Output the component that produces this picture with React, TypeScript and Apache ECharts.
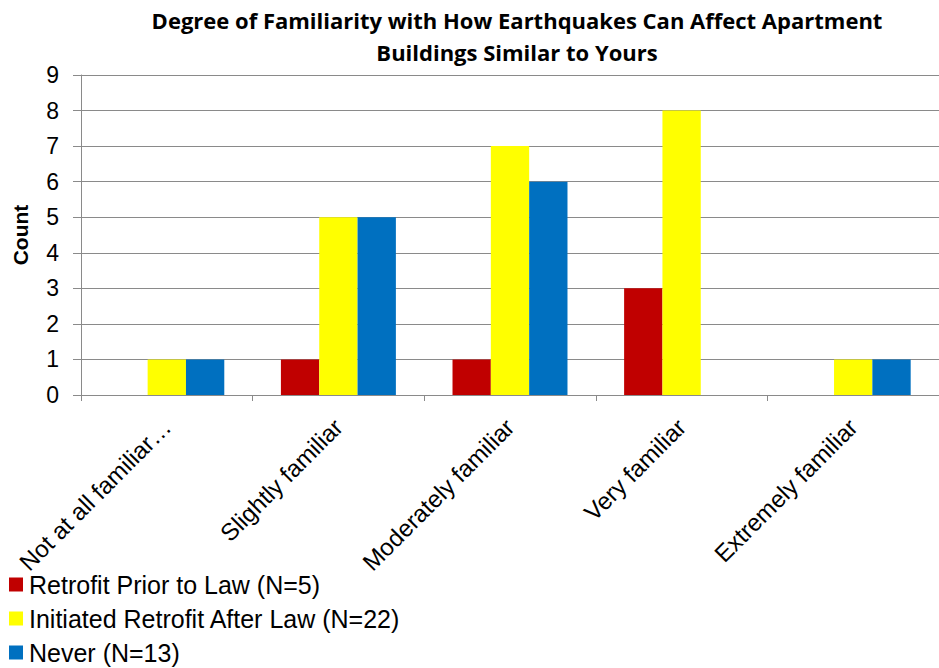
import React, { useEffect, useRef } from "react";
import * as echarts from "echarts";

const titleText = "Degree of Familiarity with How Earthquakes Can Affect Apartment\nBuildings Similar to Yours";
const categories = [
  "Not at all familiar…",
  "Slightly familiar",
  "Moderately familiar",
  "Very familiar",
  "Extremely familiar",
];
const seriesNames = [
  "Retrofit Prior to Law (N=5)",
  "Initiated Retrofit After Law (N=22)",
  "Never (N=13)",
];
const priorValues = [0, 1, 1, 3, 0];
const afterValues = [1, 5, 7, 8, 1];
const neverValues = [1, 5, 6, 0, 1];
const seriesColors = ["#C00000", "#FFFF00", "#0070C0"];
const yMin = 0;
const yMax = 9;
const yInterval = 1;

export default function App() {
  const ref = useRef<HTMLDivElement>(null);
  useEffect(() => {
    if (!ref.current) return;
    const chart = echarts.init(ref.current, undefined, { renderer: "svg" });
    const font = "'Liberation Sans', Arial, sans-serif";
    const gray = "#8a8a8a";
    const values = [priorValues, afterValues, neverValues];
    chart.setOption({
      animation: false,
      backgroundColor: "#ffffff",
      title: {
        text: titleText,
        left: 517,
        top: 4,
        padding: 0,
        textAlign: "center",
        textStyle: {
          fontFamily: "'Open Sans', Lato, sans-serif",
          fontWeight: "bold",
          fontSize: 22,
          lineHeight: 32,
          color: "#000000",
        },
      },
      legend: {
        orient: "vertical",
        left: 9,
        top: 572,
        padding: 0,
        icon: "rect",
        itemWidth: 14,
        itemHeight: 14,
        itemGap: 9,
        textStyle: { fontFamily: font, fontSize: 25, lineHeight: 25, color: "#000000", padding: [0, 0, 0, 1] },
        data: seriesNames,
      },
      grid: { left: 81, top: 75, width: 870, height: 320, containLabel: false },
      xAxis: {
        type: "category",
        data: categories,
        axisLine: { show: true, lineStyle: { color: gray, width: 1 } },
        axisTick: { show: true, length: 6, alignWithLabel: false, lineStyle: { color: gray } },
        axisLabel: {
          rotate: 45,
          margin: 28,
          interval: 0,
          fontFamily: font,
          fontSize: 24,
          color: "#000000",
        },
        splitLine: { show: false },
      },
      yAxis: {
        type: "value",
        min: yMin,
        max: yMax,
        interval: yInterval,
        name: "Count",
        nameLocation: "middle",
        nameGap: 50,
        nameTextStyle: { fontFamily: font, fontWeight: "bold", fontSize: 21, color: "#000000" },
        axisLine: { show: true, lineStyle: { color: gray, width: 1 } },
        axisTick: { show: true, length: 8, lineStyle: { color: gray } },
        axisLabel: { margin: 22, fontFamily: font, fontSize: 23, color: "#000000" },
        splitLine: { show: true, lineStyle: { color: gray, width: 1 } },
      },
      series: seriesNames.map((name, i) => ({
        name,
        type: "bar",
        data: values[i],
        barGap: "0%",
        barCategoryGap: "33%",
        itemStyle: { color: seriesColors[i] },
      })),
    });
    return () => chart.dispose();
  }, []);
  return (
    <div
      ref={ref}
      style={{ position: "absolute", left: 0, top: 0, width: 939, height: 668, overflow: "hidden" }}
    />
  );
}
